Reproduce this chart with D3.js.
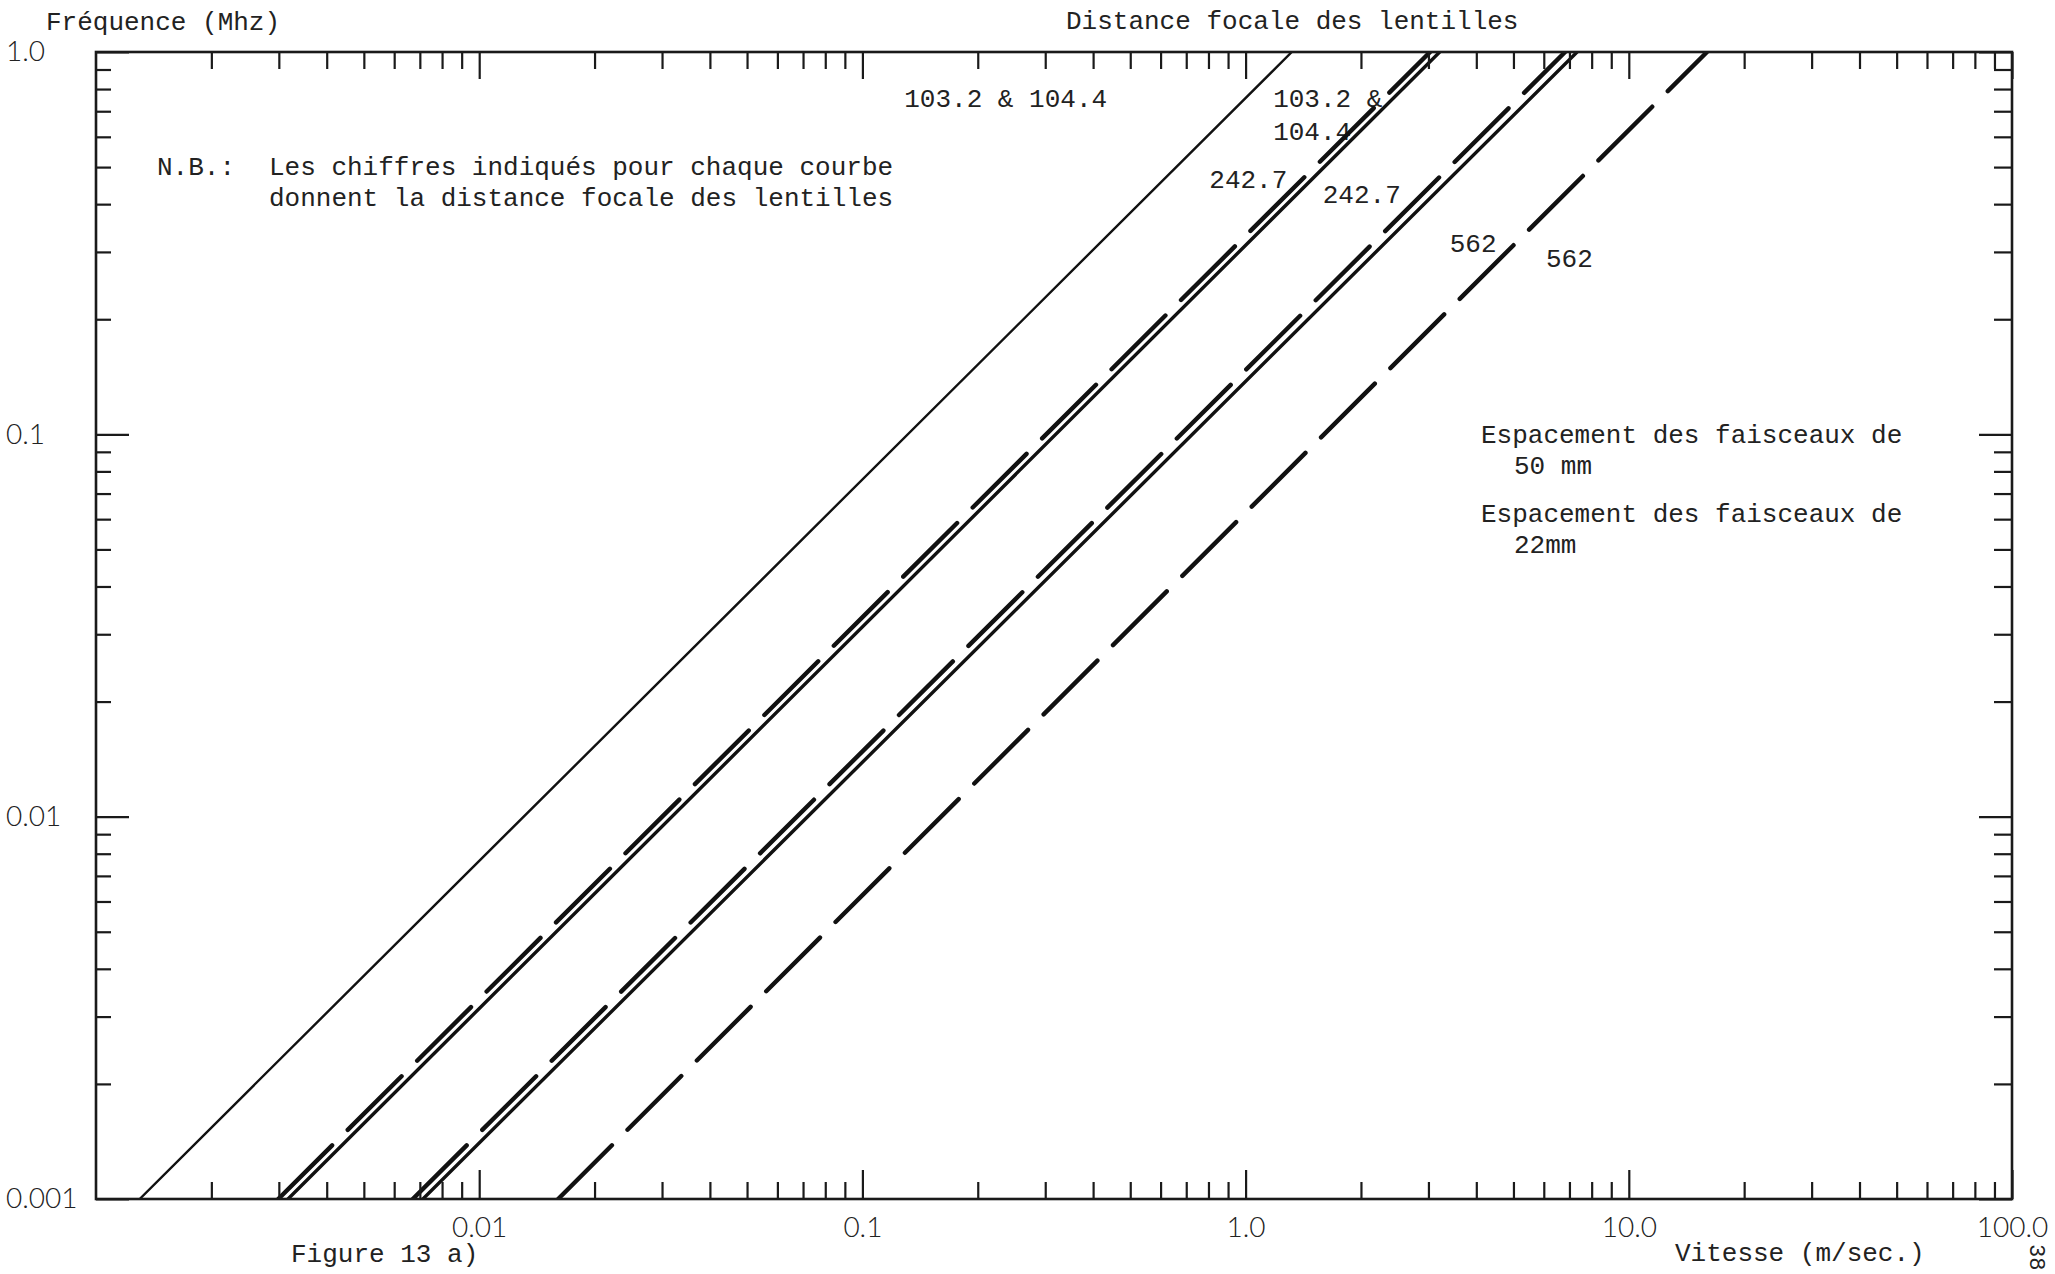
<!DOCTYPE html>
<html>
<head>
<meta charset="utf-8">
<script src="https://cdn.jsdelivr.net/npm/d3@7/dist/d3.min.js"></script>
<style>
  body { margin: 0; background: #fff; }
  .mono { font-family: "Liberation Mono", "DejaVu Sans Mono", monospace; fill: #222; }
</style>
</head>
<body>
<script>
// Fréquence vs vitesse, log-log, figure 13 a)

// data: each curve is a straight line, given by its
// speed (m/s) where it meets f = 0.001 MHz and f = 1.0 MHz
var freqEnds = [0.001, 1.0];
var seriesSpacing = ["50 mm", "22 mm", "50 mm", "22 mm", "50 mm", "22 mm"];
var seriesFocal = ["103.2 & 104.4", "103.2 & 104.4", "242.7", "242.7", "562", "562"];
var speedAtLow = [0.00130, 0.00299, 0.00317, 0.00671, 0.00713, 0.01607];
var speedAtHigh = [1.32, 3.03, 3.21, 6.82, 7.33, 16.0];

// axis ticks
var xTickValues = [0.01, 0.1, 1, 10, 100];
var xTickLabels = ["0.01", "0.1", "1.0", "10.0", "100.0"];
var yTickValues = [0.001, 0.01, 0.1, 1];
var yTickLabels = ["0.001", "0.01", "0.1", "1.0"];

// curve labels, in data units (speed, frequency)
var labelText = ["103.2 & 104.4", "103.2 &", "104.4", "242.7", "242.7", "562", "562"];
var labelSpeed = [0.1286, 1.18, 1.18, 0.804, 1.59, 3.41, 6.08];
var labelFreq = [0.718, 0.718, 0.589, 0.441, 0.403, 0.300, 0.274];

var W = 2055, H = 1274;
var svg = d3.select("body").append("svg").attr("width", W).attr("height", H);
svg.append("rect").attr("width", W).attr("height", H).attr("fill", "#fff");

var x = d3.scaleLog().domain([0.001, 100]).range([96, 2012]);
var y = d3.scaleLog().domain([0.001, 1]).range([1199, 52]);

function isPow10(v) {
  var l = Math.log10(v);
  return Math.abs(l - Math.round(l)) < 1e-9;
}
var xMinor = x.ticks().filter(function(v) { return !isPow10(v); });
var yMinor = y.ticks().filter(function(v) { return !isPow10(v); });

function styleAxis(g) {
  g.select(".domain").remove();
  g.selectAll(".tick line").attr("stroke", "#1a1a1a").attr("stroke-width", 2.2);
  g.selectAll(".tick text")
    .attr("fill", "#222")
    .attr("font-family", "Lato, 'Open Sans', sans-serif")
    .attr("font-weight", 300)
    .attr("font-size", 28);
}

// curve labels (drawn under the lines, as in the original)
svg.append("g").selectAll("text")
  .data(labelText)
  .join("text")
    .attr("class", "mono")
    .attr("font-size", 26)
    .attr("x", function(d, i) { return x(labelSpeed[i]); })
    .attr("y", function(d, i) { return y(labelFreq[i]); })
    .text(function(d) { return d; });

// the curves
var series = seriesSpacing.map(function(s, i) {
  return {
    spacing: s,
    focal: seriesFocal[i],
    points: [[speedAtLow[i], freqEnds[0]], [speedAtHigh[i], freqEnds[1]]]
  };
});

var line = d3.line()
  .x(function(p) { return x(p[0]); })
  .y(function(p) { return y(p[1]); });

svg.append("clipPath").attr("id", "plot")
  .append("rect").attr("x", 96).attr("y", 52).attr("width", 1916).attr("height", 1147);

svg.append("g").attr("clip-path", "url(#plot)")
  .selectAll("path")
  .data(series)
  .join("path")
    .attr("d", function(d) { return line(d.points); })
    .attr("fill", "none")
    .attr("stroke", "#111")
    .attr("stroke-linecap", "round")
    .attr("stroke-width", function(d, i) {
      if (d.spacing == "22 mm") return 4.4;
      return i == 0 ? 2.4 : 3.4;
    })
    .attr("stroke-dasharray", function(d) { return d.spacing == "22 mm" ? "76 22" : null; });

// axes, ticks pointing inward
var x0 = x.range()[0], x1 = x.range()[1];
var yb = y.range()[0], yt = y.range()[1];

svg.append("g").attr("transform", "translate(0," + yb + ")")
  .call(d3.axisBottom(x).tickValues(xMinor).tickSize(-17).tickSizeOuter(0).tickFormat(""))
  .call(styleAxis);
svg.append("g").attr("transform", "translate(0," + yb + ")")
  .call(d3.axisBottom(x).tickValues(xTickValues).tickSize(-29).tickSizeOuter(0).tickPadding(18)
    .tickFormat(function(d, i) { return xTickLabels[i]; }))
  .call(styleAxis);

svg.append("g").attr("transform", "translate(0," + yt + ")")
  .call(d3.axisTop(x).tickValues(xMinor).tickSize(-17).tickSizeOuter(0).tickFormat(""))
  .call(styleAxis);
svg.append("g").attr("transform", "translate(0," + yt + ")")
  .call(d3.axisTop(x).tickValues(xTickValues).tickSize(-27).tickSizeOuter(0).tickFormat(""))
  .call(styleAxis);

svg.append("g").attr("transform", "translate(" + x0 + ",0)")
  .call(d3.axisLeft(y).tickValues(yMinor).tickSize(-15).tickSizeOuter(0).tickFormat(""))
  .call(styleAxis);
svg.append("g").attr("transform", "translate(" + x0 + ",0)")
  .call(d3.axisLeft(y).tickValues(yTickValues).tickSize(-33).tickSizeOuter(0)
    .tickFormat(function(d, i) { return yTickLabels[i]; }))
  .call(styleAxis)
  .call(function(g) {
    g.selectAll(".tick text").attr("text-anchor", "start").attr("x", -90);
  });

svg.append("g").attr("transform", "translate(" + x1 + ",0)")
  .call(d3.axisRight(y).tickValues(yMinor).tickSize(-18).tickSizeOuter(0).tickFormat(""))
  .call(styleAxis);
svg.append("g").attr("transform", "translate(" + x1 + ",0)")
  .call(d3.axisRight(y).tickValues(yTickValues).tickSize(-33).tickSizeOuter(0).tickFormat(""))
  .call(styleAxis);

// frame
svg.append("rect")
  .attr("x", x0).attr("y", yt)
  .attr("width", x1 - x0).attr("height", yb - yt)
  .attr("fill", "none").attr("stroke", "#1a1a1a").attr("stroke-width", 2.6);

// titles and notes
function note(str, px, py) {
  return svg.append("text").attr("class", "mono").attr("font-size", 26)
    .attr("x", px).attr("y", py).text(str);
}
note("Fréquence (Mhz)", 46, 30);
note("Distance focale des lentilles", 1066, 29);
note("N.B.:", 157, 175);
note("Les chiffres indiqués pour chaque courbe", 269, 175);
note("donnent la distance focale des lentilles", 269, 206);
note("Espacement des faisceaux de", 1481, 443);
note("50 mm", 1514, 474);
note("Espacement des faisceaux de", 1481, 522);
note("22mm", 1514, 553);
note("Figure 13 a)", 291, 1262);
note("Vitesse (m/sec.)", 1675, 1261);

svg.append("text").attr("class", "mono").attr("font-size", 22)
  .attr("transform", "translate(2030,1244) rotate(90)")
  .text("38");
</script>
</body>
</html>
